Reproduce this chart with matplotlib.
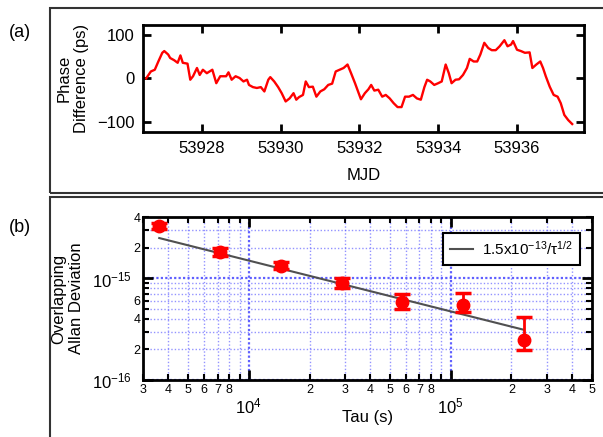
import numpy as np
import matplotlib
matplotlib.use("Agg")
import matplotlib.pyplot as plt
from matplotlib.patches import Rectangle
from matplotlib.ticker import LogLocator, FuncFormatter, FixedLocator

plt.rcParams['font.family'] = ['Liberation Sans', 'DejaVu Sans']
plt.rcParams['mathtext.fontset'] = 'custom'
plt.rcParams['mathtext.rm'] = 'Liberation Sans'
plt.rcParams['mathtext.it'] = 'Liberation Sans'
plt.rcParams['mathtext.default'] = 'regular'

# =======================
# Data
# =======================

# (a) phase difference vs MJD
mjd = [53926.59, 53926.71, 53926.81, 53926.90, 53927.00, 53927.05, 53927.15, 53927.20,
       53927.30, 53927.39, 53927.46, 53927.52, 53927.64, 53927.71, 53927.78, 53927.88,
       53927.95, 53928.03, 53928.13, 53928.27, 53928.37, 53928.47, 53928.62, 53928.68,
       53928.76, 53928.86, 53928.96, 53929.06, 53929.15, 53929.20, 53929.30, 53929.40,
       53929.50, 53929.59, 53929.69, 53929.74, 53929.84, 53929.94, 53930.03, 53930.13,
       53930.23, 53930.33, 53930.40, 53930.47, 53930.57, 53930.64, 53930.72, 53930.82,
       53930.91, 53931.01, 53931.11, 53931.21, 53931.31, 53931.40, 53931.50, 53931.60,
       53931.70, 53931.79, 53931.89, 53932.04, 53932.14, 53932.23, 53932.30, 53932.38,
       53932.48, 53932.58, 53932.67, 53932.77, 53932.87, 53932.97, 53933.07, 53933.16,
       53933.26, 53933.36, 53933.46, 53933.56, 53933.65, 53933.72, 53933.80, 53933.90,
       53934.00, 53934.09, 53934.19, 53934.27, 53934.34, 53934.44, 53934.53, 53934.63,
       53934.73, 53934.80, 53934.90, 53934.99, 53935.07, 53935.17, 53935.27, 53935.36,
       53935.46, 53935.56, 53935.68, 53935.76, 53935.85, 53935.90, 53936.00, 53936.10,
       53936.20, 53936.32, 53936.39, 53936.49, 53936.59, 53936.66, 53936.73, 53936.83,
       53936.93, 53937.03, 53937.11, 53937.20, 53937.30, 53937.40]
phase_ps = [0, 16, 20, 39, 59, 63, 55, 47,
            42, 36, 53, 36, 34, -3, 5, 24,
            8, 20, 12, 20, -11, 5, 5, 14,
            -3, 5, 1, -7, -3, -15, -20, -22,
            -20, -30, -3, 3, -7, -20, -34, -53,
            -46, -34, -49, -43, -38, -7, -20, -19,
            -42, -30, -25, -15, -12, 16, 20, 24,
            32, 12, -11, -48, -34, -25, -15, -28,
            -26, -42, -38, -46, -57, -66, -66, -42,
            -42, -38, -46, -49, -20, -3, -7, -15,
            -11, -7, 32, 12, -11, -3, -2, 8,
            24, 45, 39, 39, 55, 82, 70, 65,
            65, 74, 88, 74, 78, 86, 66, 63,
            59, 60, 24, 32, 39, 24, 5, -19,
            -38, -42, -57, -84, -96, -105]

# (b) overlapping Allan deviation
tau = [3600, 7200, 14400, 28800, 57600, 115200, 230400]
adev = [3.30e-15, 1.83e-15, 1.34e-15, 9.0e-16, 5.8e-16, 5.5e-16, 2.5e-16]
adev_err_lo = [0.25e-15, 0.15e-15, 0.11e-15, 0.9e-16, 0.78e-16, 0.8e-16, 0.52e-16]
adev_err_hi = [0.22e-15, 0.15e-15, 0.12e-15, 1.1e-16, 1.26e-16, 1.7e-16, 1.69e-16]
fit_coef = 1.5e-13

XLIM = (3000, 5e5)
YLIM = (1e-16, 4e-15)

# =======================
# Figure
# =======================

fig = plt.figure(figsize=(6.03, 4.37), dpi=100)

# panel frames
fig.add_artist(Rectangle((0.083, 0.558), 0.93, 0.424, transform=fig.transFigure,
                         fill=False, edgecolor='#333333', linewidth=1.5))
fig.add_artist(Rectangle((0.083, -0.05), 0.93, 0.599, transform=fig.transFigure,
                         fill=False, edgecolor='#333333', linewidth=1.5))
fig.text(0.033, 0.925, "(a)", fontsize=13, ha='center', va='center')
fig.text(0.033, 0.48, "(b)", fontsize=13, ha='center', va='center')

# ---- (a)
ax1 = fig.add_axes([0.2371, 0.6973, 0.7314, 0.2455])
ax1.plot(mjd, phase_ps, color='red', linewidth=1.7)
ax1.set_xlim(53926.51, 53937.70)
ax1.set_ylim(-124, 123)
ax1.set_xticks([53928, 53930, 53932, 53934, 53936])
ax1.set_yticks([-100, 0, 100])
ax1.xaxis.set_major_formatter(FuncFormatter(lambda v, p: f"{v:.0f}"))
ax1.tick_params(direction='in', top=True, right=True, length=6, width=2,
                labelsize=12, pad=6)
for s in ax1.spines.values():
    s.set_linewidth(2)
ax1.set_xlabel("MJD", fontsize=12, labelpad=9)
ax1.set_ylabel("Phase\nDifference (ps)", fontsize=12, labelpad=6)

# ---- (b)
ax2 = fig.add_axes([0.2376, 0.1304, 0.7436, 0.3723])
ax2.set_xscale('log')
ax2.set_yscale('log')
ax2.set_xlim(*XLIM)
ax2.set_ylim(*YLIM)

ax2.xaxis.set_major_locator(FixedLocator([1e4, 1e5]))
ax2.xaxis.set_minor_locator(LogLocator(base=10, subs=np.arange(2, 10), numticks=20))
ax2.yaxis.set_major_locator(FixedLocator([1e-16, 1e-15]))
ax2.yaxis.set_minor_locator(LogLocator(base=10, subs=np.arange(2, 10), numticks=20))


def major_fmt(v, p):
    return r"$10^{%d}$" % int(round(np.log10(v)))


def lead_digit(v):
    return int(round(v / 10 ** np.floor(np.log10(v) + 1e-9)))


def minor_x_fmt(v, p):
    if v < XLIM[0] * 0.999 or v > XLIM[1] * 1.001:
        return ""
    d = lead_digit(v)
    return str(d) if 2 <= d <= 8 else ""


def minor_y_fmt(v, p):
    if v < YLIM[0] * 0.999 or v > YLIM[1] * 1.001:
        return ""
    d = lead_digit(v)
    return str(d) if d in (2, 4, 6) else ""


ax2.xaxis.set_major_formatter(FuncFormatter(major_fmt))
ax2.yaxis.set_major_formatter(FuncFormatter(major_fmt))
ax2.xaxis.set_minor_formatter(FuncFormatter(minor_x_fmt))
ax2.yaxis.set_minor_formatter(FuncFormatter(minor_y_fmt))

ax2.tick_params(which='major', direction='in', top=True, right=True, length=7,
                width=2, labelsize=12)
ax2.tick_params(which='minor', direction='in', top=True, right=True, length=4,
                width=1.5, labelsize=9)
ax2.tick_params(axis='x', which='major', pad=12)
ax2.tick_params(axis='x', which='minor', pad=3)
ax2.tick_params(axis='y', which='major', pad=8)
ax2.tick_params(axis='y', which='minor', pad=2)
for s in ax2.spines.values():
    s.set_linewidth(2)

ax2.grid(True, which='major', color='#4444ff', linestyle=(0, (1, 1)), linewidth=1.6, alpha=0.85)
ax2.grid(True, which='minor', color='#5a5aff', linestyle=(0, (1, 1.5)), linewidth=1.0, alpha=0.65)
ax2.set_axisbelow(True)

tau_fit = np.array([tau[0], tau[-1]], dtype=float)
ax2.plot(tau_fit, fit_coef / np.sqrt(tau_fit), color='#505050', linewidth=1.5,
         label=r"1.5x10$^{-13}$/$\tau^{1/2}$", zorder=3)
ax2.errorbar(tau, adev, yerr=[adev_err_lo, adev_err_hi], fmt='o', color='red',
             markersize=9, elinewidth=2, capsize=6, capthick=2.5, zorder=4)

leg = ax2.legend(loc='upper right', bbox_to_anchor=(0.974, 0.9035), fontsize=11,
                 frameon=True, fancybox=False, handlelength=1.5, handletextpad=0.6,
                 borderpad=0.45, borderaxespad=0)
leg.get_frame().set_edgecolor('black')
leg.get_frame().set_linewidth(1.5)
leg.get_frame().set_alpha(1)

ax2.set_xlabel("Tau (s)", fontsize=12)
ax2.xaxis.set_label_coords(0.5, -0.185)
ax2.set_ylabel("Overlapping\nAllan Deviation", fontsize=12, labelpad=6)

fig.savefig("out.png", dpi=100)
